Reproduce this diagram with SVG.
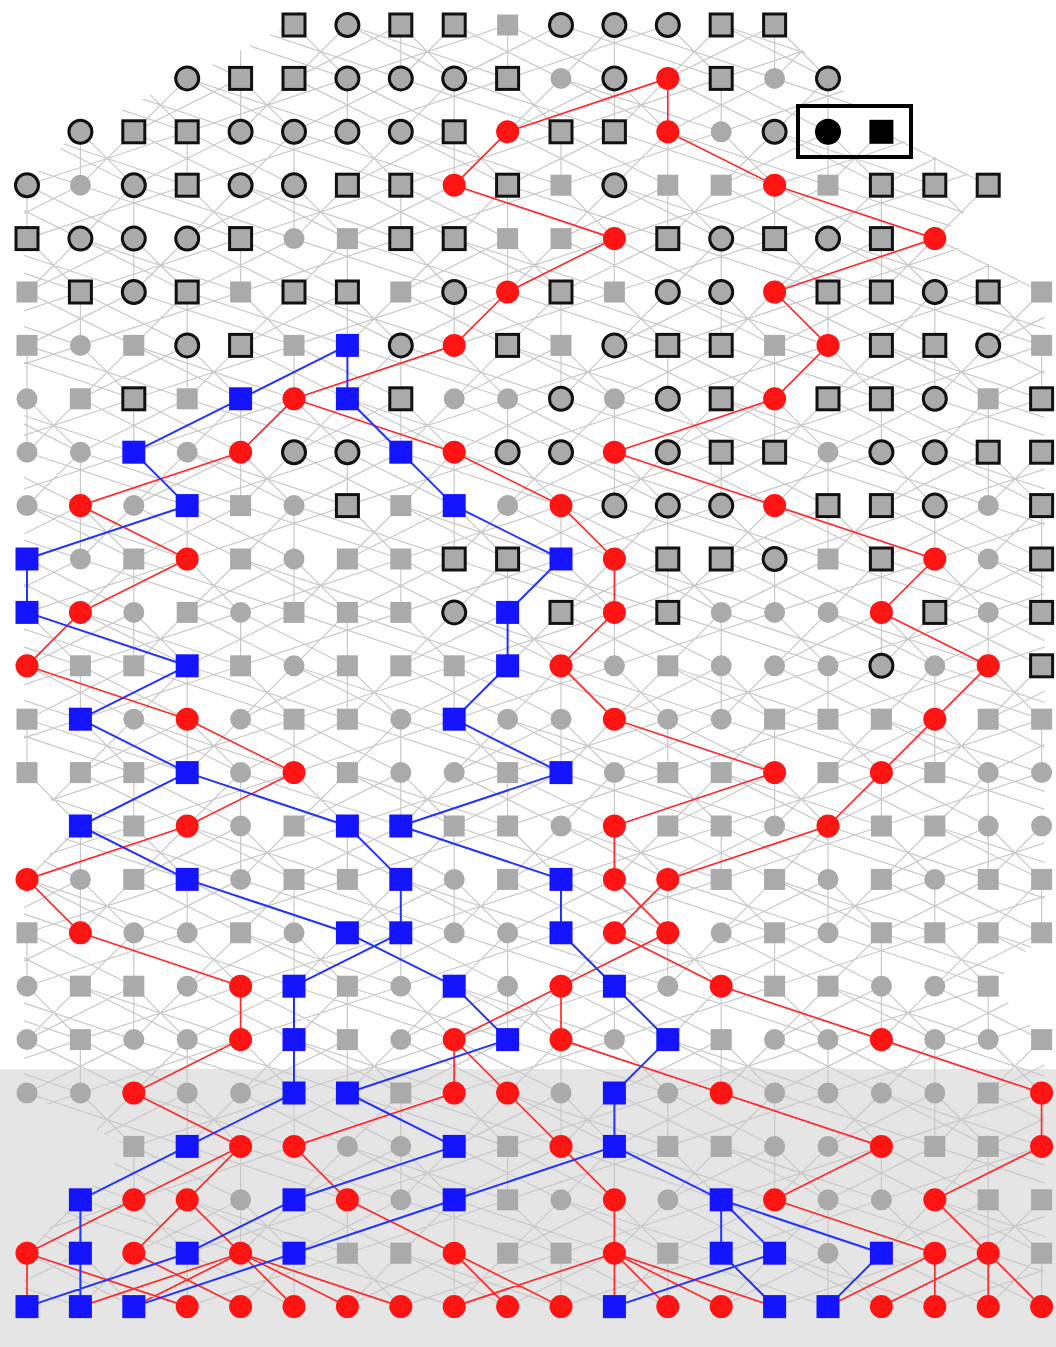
<svg xmlns="http://www.w3.org/2000/svg" width="1056" height="1347" viewBox="0 0 1056 1347">
<style>
.ge{fill:none;stroke:#c8c8c8;stroke-width:1.2}
.re{fill:none;stroke:#ff2a2a;stroke-width:1.7}
.be{fill:none;stroke:#2233ff;stroke-width:2}
</style>
<defs>
<circle id="gc" r="10.5" fill="#aaaaaa"/>
<rect id="gs" x="-10.5" y="-10.5" width="21" height="21" fill="#aaaaaa"/>
<circle id="oc" r="11.5" fill="#aaaaaa" stroke="#111" stroke-width="3"/>
<rect id="os" x="-11" y="-11" width="22" height="22" fill="#aaaaaa" stroke="#111" stroke-width="3"/>
<circle id="rc" r="11.5" fill="#ff1414"/>
<rect id="bs" x="-11.5" y="-11.5" width="23" height="23" fill="#1414ff"/>
<circle id="kc" r="13" fill="#000"/>
<rect id="ks" x="-12" y="-12" width="24" height="24" fill="#000"/>
<path id="p7" d="M0 0V53.4M0 0L53.4 53.4M0 0L-106.8 53.4M53.4 0L160.2 53.4M53.4 0L0 53.4M106.8 0V53.4M106.8 0L-53.4 53.4M106.8 0L213.6 53.4M160.2 0L320.4 53.4M160.2 0L53.4 53.4M213.6 0V53.4M213.6 0L160.2 53.4M213.6 0L373.8 53.4M267 0L320.4 53.4M267 0L106.8 53.4M320.4 0L267 53.4M320.4 0L427.2 53.4M320.4 0L480.6 53.4"/>
<g id="band">
<use href="#p7" x="-747.6"/><use href="#p7" x="-373.8"/><use href="#p7" x="0"/><use href="#p7" x="373.8"/><use href="#p7" x="747.6"/><use href="#p7" x="1121.4"/><use href="#p7" x="1495.2"/>
</g>
<clipPath id="k0"><polygon points="291,24 777.6,24 831,79.4 184.2,79.4"/></clipPath>
<clipPath id="k1"><polygon points="184.2,77.4 831,77.4 884.4,132.8 77.4,132.8"/></clipPath>
<clipPath id="k2"><polygon points="77.4,130.8 884.4,130.8 991.2,186.2 24,186.2"/></clipPath>
<clipPath id="k3"><polygon points="24,184.2 991.2,184.2 937.8,239.6 24,239.6"/></clipPath>
<clipPath id="k4"><polygon points="24,237.6 937.8,237.6 1044.6,293 24,293"/></clipPath>
<clipPath id="kf"><rect x="24" y="0" width="1020.6" height="1347"/></clipPath>
<clipPath id="k14"><polygon points="24,771.6 1044.6,771.6 1044.6,827 77.4,827"/></clipPath>
<clipPath id="k15"><polygon points="77.4,825 1044.6,825 1044.6,880.4 24,880.4"/></clipPath>
<clipPath id="k17"><polygon points="24,931.8 1044.6,931.8 991.2,987.2 24,987.2"/></clipPath>
<clipPath id="k18"><polygon points="24,985.2 991.2,985.2 1044.6,1040.6 24,1040.6"/></clipPath>
<clipPath id="k20"><polygon points="24,1092 1044.6,1092 1044.6,1147.4 130.8,1147.4"/></clipPath>
<clipPath id="k21"><polygon points="130.8,1145.4 1044.6,1145.4 1044.6,1200.8 77.4,1200.8"/></clipPath>
<clipPath id="k22"><polygon points="77.4,1198.8 1044.6,1198.8 1044.6,1254.2 24,1254.2"/></clipPath>
</defs>
<rect x="0" y="0" width="1056" height="1347" fill="#ffffff"/>
<rect id="lower-band" x="0" y="1069" width="1056" height="278" fill="#e5e5e5"/>
<g id="connectors">
<g id="gray-edges" class="ge">
<g clip-path="url(#k0)"><use href="#band" transform="translate(27,25)"/></g>
<g clip-path="url(#k1)"><use href="#band" transform="translate(-133.2,78.4)"/></g>
<g clip-path="url(#k2)"><use href="#band" transform="translate(-293.4,131.8)"/></g>
<g clip-path="url(#k3)"><use href="#band" transform="translate(-79.8,185.2)"/></g>
<g clip-path="url(#k4)"><use href="#band" transform="translate(-240,238.6)"/></g>
<g clip-path="url(#kf)">
<use href="#band" transform="translate(-26.4,292)"/>
<use href="#band" transform="translate(-186.6,345.4)"/>
<use href="#band" transform="translate(27,398.8)"/>
<use href="#band" transform="translate(-133.2,452.2)"/>
<use href="#band" transform="translate(-293.4,505.6)"/>
<use href="#band" transform="translate(-79.8,559)"/>
<use href="#band" transform="translate(-240,612.4)"/>
<use href="#band" transform="translate(-26.4,665.8)"/>
<use href="#band" transform="translate(-186.6,719.2)"/>
<use href="#band" transform="translate(-293.4,879.4)"/>
<use href="#band" transform="translate(-26.4,1039.6)"/>
<use href="#band" transform="translate(-293.4,1253.2)"/>
</g>
<g clip-path="url(#k14)"><use href="#band" transform="translate(27,772.6)"/></g>
<g clip-path="url(#k15)"><use href="#band" transform="translate(-133.2,826)"/></g>
<g clip-path="url(#k17)"><use href="#band" transform="translate(-79.8,932.8)"/></g>
<g clip-path="url(#k18)"><use href="#band" transform="translate(-240,986.2)"/></g>
<g clip-path="url(#k20)"><use href="#band" transform="translate(-186.6,1093)"/></g>
<g clip-path="url(#k21)"><use href="#band" transform="translate(27,1146.4)"/></g>
<g clip-path="url(#k22)"><use href="#band" transform="translate(-133.2,1199.8)"/></g>
</g>
<path id="red-edges" class="re" d="M667.8 78.4L507.6 131.8M667.8 78.4L667.8 131.8M507.6 131.8L454.2 185.2M667.8 131.8L774.6 185.2M454.2 185.2L614.4 238.6M774.6 185.2L934.8 238.6M614.4 238.6L507.6 292M934.8 238.6L774.6 292M507.6 292L454.2 345.4M774.6 292L828 345.4M454.2 345.4L294 398.8M828 345.4L774.6 398.8M294 398.8L240.6 452.2M294 398.8L454.2 452.2M774.6 398.8L614.4 452.2M240.6 452.2L80.4 505.6M454.2 452.2L561 505.6M614.4 452.2L774.6 505.6M80.4 505.6L187.2 559M561 505.6L614.4 559M774.6 505.6L934.8 559M187.2 559L80.4 612.4M614.4 559L614.4 612.4M934.8 559L881.4 612.4M80.4 612.4L27 665.8M614.4 612.4L561 665.8M881.4 612.4L988.2 665.8M27 665.8L187.2 719.2M561 665.8L614.4 719.2M988.2 665.8L934.8 719.2M187.2 719.2L294 772.6M614.4 719.2L774.6 772.6M934.8 719.2L881.4 772.6M294 772.6L187.2 826M774.6 772.6L614.4 826M881.4 772.6L828 826M187.2 826L27 879.4M614.4 826L614.4 879.4M828 826L667.8 879.4M27 879.4L80.4 932.8M614.4 879.4L667.8 932.8M667.8 879.4L614.4 932.8M80.4 932.8L240.6 986.2M614.4 932.8L721.2 986.2M667.8 932.8L561 986.2M240.6 986.2L240.6 1039.6M561 986.2L454.2 1039.6M561 986.2L561 1039.6M721.2 986.2L881.4 1039.6M240.6 1039.6L133.8 1093M454.2 1039.6L454.2 1093M454.2 1039.6L507.6 1093M561 1039.6L721.2 1093M881.4 1039.6L1041.6 1093M133.8 1093L240.6 1146.4M454.2 1093L294 1146.4M507.6 1093L561 1146.4M721.2 1093L881.4 1146.4M1041.6 1093L1041.6 1146.4M240.6 1146.4L133.8 1199.8M240.6 1146.4L187.2 1199.8M294 1146.4L347.4 1199.8M561 1146.4L614.4 1199.8M881.4 1146.4L774.6 1199.8M1041.6 1146.4L934.8 1199.8M133.8 1199.8L27 1253.2M187.2 1199.8L133.8 1253.2M187.2 1199.8L240.6 1253.2M347.4 1199.8L454.2 1253.2M614.4 1199.8L614.4 1253.2M774.6 1199.8L934.8 1253.2M934.8 1199.8L988.2 1253.2M27 1253.2L27 1306.6M27 1253.2L187.2 1306.6M133.8 1253.2L240.6 1306.6M240.6 1253.2L80.4 1306.6M240.6 1253.2L133.8 1306.6M240.6 1253.2L294 1306.6M240.6 1253.2L347.4 1306.6M240.6 1253.2L400.8 1306.6M454.2 1253.2L507.6 1306.6M454.2 1253.2L561 1306.6M614.4 1253.2L454.2 1306.6M614.4 1253.2L614.4 1306.6M614.4 1253.2L667.8 1306.6M614.4 1253.2L721.2 1306.6M614.4 1253.2L774.6 1306.6M934.8 1253.2L828 1306.6M934.8 1253.2L934.8 1306.6M988.2 1253.2L881.4 1306.6M988.2 1253.2L988.2 1306.6M988.2 1253.2L1041.6 1306.6"/>
<path id="blue-edges" class="be" d="M347.4 345.4L240.6 398.8M347.4 345.4L347.4 398.8M240.6 398.8L133.8 452.2M347.4 398.8L400.8 452.2M133.8 452.2L187.2 505.6M400.8 452.2L454.2 505.6M187.2 505.6L27 559M454.2 505.6L561 559M27 559L27 612.4M561 559L507.6 612.4M27 612.4L187.2 665.8M507.6 612.4L507.6 665.8M187.2 665.8L80.4 719.2M507.6 665.8L454.2 719.2M80.4 719.2L187.2 772.6M454.2 719.2L561 772.6M187.2 772.6L80.4 826M187.2 772.6L347.4 826M561 772.6L400.8 826M80.4 826L187.2 879.4M347.4 826L400.8 879.4M400.8 826L561 879.4M187.2 879.4L347.4 932.8M400.8 879.4L400.8 932.8M561 879.4L561 932.8M347.4 932.8L454.2 986.2M400.8 932.8L294 986.2M561 932.8L614.4 986.2M294 986.2L294 1039.6M454.2 986.2L507.6 1039.6M614.4 986.2L667.8 1039.6M294 1039.6L294 1093M507.6 1039.6L347.4 1093M667.8 1039.6L614.4 1093M294 1093L187.2 1146.4M347.4 1093L454.2 1146.4M614.4 1093L614.4 1146.4M187.2 1146.4L80.4 1199.8M454.2 1146.4L294 1199.8M614.4 1146.4L454.2 1199.8M614.4 1146.4L721.2 1199.8M80.4 1199.8L80.4 1253.2M294 1199.8L187.2 1253.2M454.2 1199.8L294 1253.2M721.2 1199.8L721.2 1253.2M721.2 1199.8L774.6 1253.2M721.2 1199.8L881.4 1253.2M80.4 1253.2L80.4 1306.6M187.2 1253.2L27 1306.6M294 1253.2L133.8 1306.6M721.2 1253.2L774.6 1306.6M774.6 1253.2L614.4 1306.6M881.4 1253.2L828 1306.6"/>
</g>
<g id="nodes">
<g id="row0" transform="translate(0,25)">
<g id="n0-5"><use href="#os" x="294"/></g><g id="n0-6"><use href="#oc" x="347.4"/></g><g id="n0-7"><use href="#os" x="400.8"/></g><g id="n0-8"><use href="#os" x="454.2"/></g><g id="n0-9"><use href="#gs" x="507.6"/></g><g id="n0-10"><use href="#oc" x="561"/></g><g id="n0-11"><use href="#oc" x="614.4"/></g><g id="n0-12"><use href="#oc" x="667.8"/></g><g id="n0-13"><use href="#os" x="721.2"/></g><g id="n0-14"><use href="#os" x="774.6"/></g>
</g>
<g id="row1" transform="translate(0,78.4)">
<g id="n1-3"><use href="#oc" x="187.2"/></g><g id="n1-4"><use href="#os" x="240.6"/></g><g id="n1-5"><use href="#os" x="294"/></g><g id="n1-6"><use href="#oc" x="347.4"/></g><g id="n1-7"><use href="#oc" x="400.8"/></g><g id="n1-8"><use href="#oc" x="454.2"/></g><g id="n1-9"><use href="#os" x="507.6"/></g><g id="n1-10"><use href="#gc" x="561"/></g><g id="n1-11"><use href="#oc" x="614.4"/></g><g id="n1-12"><use href="#rc" x="667.8"/></g><g id="n1-13"><use href="#os" x="721.2"/></g><g id="n1-14"><use href="#gc" x="774.6"/></g><g id="n1-15"><use href="#oc" x="828"/></g>
</g>
<g id="row2" transform="translate(0,131.8)">
<g id="n2-1"><use href="#oc" x="80.4"/></g><g id="n2-2"><use href="#os" x="133.8"/></g><g id="n2-3"><use href="#os" x="187.2"/></g><g id="n2-4"><use href="#oc" x="240.6"/></g><g id="n2-5"><use href="#oc" x="294"/></g><g id="n2-6"><use href="#oc" x="347.4"/></g><g id="n2-7"><use href="#oc" x="400.8"/></g><g id="n2-8"><use href="#os" x="454.2"/></g><g id="n2-9"><use href="#rc" x="507.6"/></g><g id="n2-10"><use href="#os" x="561"/></g><g id="n2-11"><use href="#os" x="614.4"/></g><g id="n2-12"><use href="#rc" x="667.8"/></g><g id="n2-13"><use href="#gc" x="721.2"/></g><g id="n2-14"><use href="#oc" x="774.6"/></g><g id="n2-15"><use href="#kc" x="828"/></g><g id="n2-16"><use href="#ks" x="881.4"/></g>
</g>
<g id="row3" transform="translate(0,185.2)">
<g id="n3-0"><use href="#oc" x="27"/></g><g id="n3-1"><use href="#gc" x="80.4"/></g><g id="n3-2"><use href="#oc" x="133.8"/></g><g id="n3-3"><use href="#os" x="187.2"/></g><g id="n3-4"><use href="#oc" x="240.6"/></g><g id="n3-5"><use href="#oc" x="294"/></g><g id="n3-6"><use href="#os" x="347.4"/></g><g id="n3-7"><use href="#os" x="400.8"/></g><g id="n3-8"><use href="#rc" x="454.2"/></g><g id="n3-9"><use href="#os" x="507.6"/></g><g id="n3-10"><use href="#gs" x="561"/></g><g id="n3-11"><use href="#oc" x="614.4"/></g><g id="n3-12"><use href="#gs" x="667.8"/></g><g id="n3-13"><use href="#gs" x="721.2"/></g><g id="n3-14"><use href="#rc" x="774.6"/></g><g id="n3-15"><use href="#gs" x="828"/></g><g id="n3-16"><use href="#os" x="881.4"/></g><g id="n3-17"><use href="#os" x="934.8"/></g><g id="n3-18"><use href="#os" x="988.2"/></g>
</g>
<g id="row4" transform="translate(0,238.6)">
<g id="n4-0"><use href="#os" x="27"/></g><g id="n4-1"><use href="#oc" x="80.4"/></g><g id="n4-2"><use href="#oc" x="133.8"/></g><g id="n4-3"><use href="#oc" x="187.2"/></g><g id="n4-4"><use href="#os" x="240.6"/></g><g id="n4-5"><use href="#gc" x="294"/></g><g id="n4-6"><use href="#gs" x="347.4"/></g><g id="n4-7"><use href="#os" x="400.8"/></g><g id="n4-8"><use href="#os" x="454.2"/></g><g id="n4-9"><use href="#gs" x="507.6"/></g><g id="n4-10"><use href="#gs" x="561"/></g><g id="n4-11"><use href="#rc" x="614.4"/></g><g id="n4-12"><use href="#os" x="667.8"/></g><g id="n4-13"><use href="#oc" x="721.2"/></g><g id="n4-14"><use href="#os" x="774.6"/></g><g id="n4-15"><use href="#oc" x="828"/></g><g id="n4-16"><use href="#os" x="881.4"/></g><g id="n4-17"><use href="#rc" x="934.8"/></g>
</g>
<g id="row5" transform="translate(0,292)">
<g id="n5-0"><use href="#gs" x="27"/></g><g id="n5-1"><use href="#os" x="80.4"/></g><g id="n5-2"><use href="#oc" x="133.8"/></g><g id="n5-3"><use href="#os" x="187.2"/></g><g id="n5-4"><use href="#gs" x="240.6"/></g><g id="n5-5"><use href="#os" x="294"/></g><g id="n5-6"><use href="#os" x="347.4"/></g><g id="n5-7"><use href="#gs" x="400.8"/></g><g id="n5-8"><use href="#oc" x="454.2"/></g><g id="n5-9"><use href="#rc" x="507.6"/></g><g id="n5-10"><use href="#os" x="561"/></g><g id="n5-11"><use href="#gs" x="614.4"/></g><g id="n5-12"><use href="#oc" x="667.8"/></g><g id="n5-13"><use href="#oc" x="721.2"/></g><g id="n5-14"><use href="#rc" x="774.6"/></g><g id="n5-15"><use href="#os" x="828"/></g><g id="n5-16"><use href="#os" x="881.4"/></g><g id="n5-17"><use href="#oc" x="934.8"/></g><g id="n5-18"><use href="#os" x="988.2"/></g><g id="n5-19"><use href="#gs" x="1041.6"/></g>
</g>
<g id="row6" transform="translate(0,345.4)">
<g id="n6-0"><use href="#gs" x="27"/></g><g id="n6-1"><use href="#gc" x="80.4"/></g><g id="n6-2"><use href="#gs" x="133.8"/></g><g id="n6-3"><use href="#oc" x="187.2"/></g><g id="n6-4"><use href="#os" x="240.6"/></g><g id="n6-5"><use href="#gs" x="294"/></g><g id="n6-6"><use href="#bs" x="347.4"/></g><g id="n6-7"><use href="#oc" x="400.8"/></g><g id="n6-8"><use href="#rc" x="454.2"/></g><g id="n6-9"><use href="#os" x="507.6"/></g><g id="n6-10"><use href="#gs" x="561"/></g><g id="n6-11"><use href="#oc" x="614.4"/></g><g id="n6-12"><use href="#os" x="667.8"/></g><g id="n6-13"><use href="#os" x="721.2"/></g><g id="n6-14"><use href="#gs" x="774.6"/></g><g id="n6-15"><use href="#rc" x="828"/></g><g id="n6-16"><use href="#os" x="881.4"/></g><g id="n6-17"><use href="#os" x="934.8"/></g><g id="n6-18"><use href="#oc" x="988.2"/></g><g id="n6-19"><use href="#gs" x="1041.6"/></g>
</g>
<g id="row7" transform="translate(0,398.8)">
<g id="n7-0"><use href="#gc" x="27"/></g><g id="n7-1"><use href="#gs" x="80.4"/></g><g id="n7-2"><use href="#os" x="133.8"/></g><g id="n7-3"><use href="#gs" x="187.2"/></g><g id="n7-4"><use href="#bs" x="240.6"/></g><g id="n7-5"><use href="#rc" x="294"/></g><g id="n7-6"><use href="#bs" x="347.4"/></g><g id="n7-7"><use href="#os" x="400.8"/></g><g id="n7-8"><use href="#gc" x="454.2"/></g><g id="n7-9"><use href="#gc" x="507.6"/></g><g id="n7-10"><use href="#oc" x="561"/></g><g id="n7-11"><use href="#gc" x="614.4"/></g><g id="n7-12"><use href="#oc" x="667.8"/></g><g id="n7-13"><use href="#os" x="721.2"/></g><g id="n7-14"><use href="#rc" x="774.6"/></g><g id="n7-15"><use href="#os" x="828"/></g><g id="n7-16"><use href="#os" x="881.4"/></g><g id="n7-17"><use href="#oc" x="934.8"/></g><g id="n7-18"><use href="#gs" x="988.2"/></g><g id="n7-19"><use href="#os" x="1041.6"/></g>
</g>
<g id="row8" transform="translate(0,452.2)">
<g id="n8-0"><use href="#gc" x="27"/></g><g id="n8-1"><use href="#gc" x="80.4"/></g><g id="n8-2"><use href="#bs" x="133.8"/></g><g id="n8-3"><use href="#gc" x="187.2"/></g><g id="n8-4"><use href="#rc" x="240.6"/></g><g id="n8-5"><use href="#oc" x="294"/></g><g id="n8-6"><use href="#oc" x="347.4"/></g><g id="n8-7"><use href="#bs" x="400.8"/></g><g id="n8-8"><use href="#rc" x="454.2"/></g><g id="n8-9"><use href="#oc" x="507.6"/></g><g id="n8-10"><use href="#oc" x="561"/></g><g id="n8-11"><use href="#rc" x="614.4"/></g><g id="n8-12"><use href="#oc" x="667.8"/></g><g id="n8-13"><use href="#os" x="721.2"/></g><g id="n8-14"><use href="#os" x="774.6"/></g><g id="n8-15"><use href="#gc" x="828"/></g><g id="n8-16"><use href="#oc" x="881.4"/></g><g id="n8-17"><use href="#oc" x="934.8"/></g><g id="n8-18"><use href="#os" x="988.2"/></g><g id="n8-19"><use href="#os" x="1041.6"/></g>
</g>
<g id="row9" transform="translate(0,505.6)">
<g id="n9-0"><use href="#gc" x="27"/></g><g id="n9-1"><use href="#rc" x="80.4"/></g><g id="n9-2"><use href="#gc" x="133.8"/></g><g id="n9-3"><use href="#bs" x="187.2"/></g><g id="n9-4"><use href="#gs" x="240.6"/></g><g id="n9-5"><use href="#gc" x="294"/></g><g id="n9-6"><use href="#os" x="347.4"/></g><g id="n9-7"><use href="#gs" x="400.8"/></g><g id="n9-8"><use href="#bs" x="454.2"/></g><g id="n9-9"><use href="#gc" x="507.6"/></g><g id="n9-10"><use href="#rc" x="561"/></g><g id="n9-11"><use href="#oc" x="614.4"/></g><g id="n9-12"><use href="#oc" x="667.8"/></g><g id="n9-13"><use href="#oc" x="721.2"/></g><g id="n9-14"><use href="#rc" x="774.6"/></g><g id="n9-15"><use href="#os" x="828"/></g><g id="n9-16"><use href="#os" x="881.4"/></g><g id="n9-17"><use href="#oc" x="934.8"/></g><g id="n9-18"><use href="#gc" x="988.2"/></g><g id="n9-19"><use href="#os" x="1041.6"/></g>
</g>
<g id="row10" transform="translate(0,559)">
<g id="n10-0"><use href="#bs" x="27"/></g><g id="n10-1"><use href="#gc" x="80.4"/></g><g id="n10-2"><use href="#gs" x="133.8"/></g><g id="n10-3"><use href="#rc" x="187.2"/></g><g id="n10-4"><use href="#gs" x="240.6"/></g><g id="n10-5"><use href="#gc" x="294"/></g><g id="n10-6"><use href="#gs" x="347.4"/></g><g id="n10-7"><use href="#gs" x="400.8"/></g><g id="n10-8"><use href="#os" x="454.2"/></g><g id="n10-9"><use href="#os" x="507.6"/></g><g id="n10-10"><use href="#bs" x="561"/></g><g id="n10-11"><use href="#rc" x="614.4"/></g><g id="n10-12"><use href="#os" x="667.8"/></g><g id="n10-13"><use href="#os" x="721.2"/></g><g id="n10-14"><use href="#oc" x="774.6"/></g><g id="n10-15"><use href="#gs" x="828"/></g><g id="n10-16"><use href="#os" x="881.4"/></g><g id="n10-17"><use href="#rc" x="934.8"/></g><g id="n10-18"><use href="#gc" x="988.2"/></g><g id="n10-19"><use href="#os" x="1041.6"/></g>
</g>
<g id="row11" transform="translate(0,612.4)">
<g id="n11-0"><use href="#bs" x="27"/></g><g id="n11-1"><use href="#rc" x="80.4"/></g><g id="n11-2"><use href="#gc" x="133.8"/></g><g id="n11-3"><use href="#gs" x="187.2"/></g><g id="n11-4"><use href="#gc" x="240.6"/></g><g id="n11-5"><use href="#gs" x="294"/></g><g id="n11-6"><use href="#gs" x="347.4"/></g><g id="n11-7"><use href="#gs" x="400.8"/></g><g id="n11-8"><use href="#oc" x="454.2"/></g><g id="n11-9"><use href="#bs" x="507.6"/></g><g id="n11-10"><use href="#os" x="561"/></g><g id="n11-11"><use href="#rc" x="614.4"/></g><g id="n11-12"><use href="#os" x="667.8"/></g><g id="n11-13"><use href="#gc" x="721.2"/></g><g id="n11-14"><use href="#gc" x="774.6"/></g><g id="n11-15"><use href="#gc" x="828"/></g><g id="n11-16"><use href="#rc" x="881.4"/></g><g id="n11-17"><use href="#os" x="934.8"/></g><g id="n11-18"><use href="#gc" x="988.2"/></g><g id="n11-19"><use href="#os" x="1041.6"/></g>
</g>
<g id="row12" transform="translate(0,665.8)">
<g id="n12-0"><use href="#rc" x="27"/></g><g id="n12-1"><use href="#gs" x="80.4"/></g><g id="n12-2"><use href="#gs" x="133.8"/></g><g id="n12-3"><use href="#bs" x="187.2"/></g><g id="n12-4"><use href="#gs" x="240.6"/></g><g id="n12-5"><use href="#gc" x="294"/></g><g id="n12-6"><use href="#gs" x="347.4"/></g><g id="n12-7"><use href="#gs" x="400.8"/></g><g id="n12-8"><use href="#gs" x="454.2"/></g><g id="n12-9"><use href="#bs" x="507.6"/></g><g id="n12-10"><use href="#rc" x="561"/></g><g id="n12-11"><use href="#gc" x="614.4"/></g><g id="n12-12"><use href="#gs" x="667.8"/></g><g id="n12-13"><use href="#gc" x="721.2"/></g><g id="n12-14"><use href="#gc" x="774.6"/></g><g id="n12-15"><use href="#gc" x="828"/></g><g id="n12-16"><use href="#oc" x="881.4"/></g><g id="n12-17"><use href="#gc" x="934.8"/></g><g id="n12-18"><use href="#rc" x="988.2"/></g><g id="n12-19"><use href="#os" x="1041.6"/></g>
</g>
<g id="row13" transform="translate(0,719.2)">
<g id="n13-0"><use href="#gs" x="27"/></g><g id="n13-1"><use href="#bs" x="80.4"/></g><g id="n13-2"><use href="#gc" x="133.8"/></g><g id="n13-3"><use href="#rc" x="187.2"/></g><g id="n13-4"><use href="#gc" x="240.6"/></g><g id="n13-5"><use href="#gs" x="294"/></g><g id="n13-6"><use href="#gs" x="347.4"/></g><g id="n13-7"><use href="#gc" x="400.8"/></g><g id="n13-8"><use href="#bs" x="454.2"/></g><g id="n13-9"><use href="#gc" x="507.6"/></g><g id="n13-10"><use href="#gc" x="561"/></g><g id="n13-11"><use href="#rc" x="614.4"/></g><g id="n13-12"><use href="#gc" x="667.8"/></g><g id="n13-13"><use href="#gc" x="721.2"/></g><g id="n13-14"><use href="#gs" x="774.6"/></g><g id="n13-15"><use href="#gs" x="828"/></g><g id="n13-16"><use href="#gs" x="881.4"/></g><g id="n13-17"><use href="#rc" x="934.8"/></g><g id="n13-18"><use href="#gs" x="988.2"/></g><g id="n13-19"><use href="#gs" x="1041.6"/></g>
</g>
<g id="row14" transform="translate(0,772.6)">
<g id="n14-0"><use href="#gs" x="27"/></g><g id="n14-1"><use href="#gs" x="80.4"/></g><g id="n14-2"><use href="#gs" x="133.8"/></g><g id="n14-3"><use href="#bs" x="187.2"/></g><g id="n14-4"><use href="#gc" x="240.6"/></g><g id="n14-5"><use href="#rc" x="294"/></g><g id="n14-6"><use href="#gs" x="347.4"/></g><g id="n14-7"><use href="#gc" x="400.8"/></g><g id="n14-8"><use href="#gc" x="454.2"/></g><g id="n14-9"><use href="#gs" x="507.6"/></g><g id="n14-10"><use href="#bs" x="561"/></g><g id="n14-11"><use href="#gc" x="614.4"/></g><g id="n14-12"><use href="#gs" x="667.8"/></g><g id="n14-13"><use href="#gs" x="721.2"/></g><g id="n14-14"><use href="#rc" x="774.6"/></g><g id="n14-15"><use href="#gs" x="828"/></g><g id="n14-16"><use href="#rc" x="881.4"/></g><g id="n14-17"><use href="#gs" x="934.8"/></g><g id="n14-18"><use href="#gc" x="988.2"/></g><g id="n14-19"><use href="#gc" x="1041.6"/></g>
</g>
<g id="row15" transform="translate(0,826)">
<g id="n15-1"><use href="#bs" x="80.4"/></g><g id="n15-2"><use href="#gs" x="133.8"/></g><g id="n15-3"><use href="#rc" x="187.2"/></g><g id="n15-4"><use href="#gc" x="240.6"/></g><g id="n15-5"><use href="#gs" x="294"/></g><g id="n15-6"><use href="#bs" x="347.4"/></g><g id="n15-7"><use href="#bs" x="400.8"/></g><g id="n15-8"><use href="#gs" x="454.2"/></g><g id="n15-9"><use href="#gs" x="507.6"/></g><g id="n15-10"><use href="#gc" x="561"/></g><g id="n15-11"><use href="#rc" x="614.4"/></g><g id="n15-12"><use href="#gs" x="667.8"/></g><g id="n15-13"><use href="#gs" x="721.2"/></g><g id="n15-14"><use href="#gc" x="774.6"/></g><g id="n15-15"><use href="#rc" x="828"/></g><g id="n15-16"><use href="#gs" x="881.4"/></g><g id="n15-17"><use href="#gs" x="934.8"/></g><g id="n15-18"><use href="#gc" x="988.2"/></g><g id="n15-19"><use href="#gc" x="1041.6"/></g>
</g>
<g id="row16" transform="translate(0,879.4)">
<g id="n16-0"><use href="#rc" x="27"/></g><g id="n16-1"><use href="#gc" x="80.4"/></g><g id="n16-2"><use href="#gs" x="133.8"/></g><g id="n16-3"><use href="#bs" x="187.2"/></g><g id="n16-4"><use href="#gc" x="240.6"/></g><g id="n16-5"><use href="#gs" x="294"/></g><g id="n16-6"><use href="#gs" x="347.4"/></g><g id="n16-7"><use href="#bs" x="400.8"/></g><g id="n16-8"><use href="#gc" x="454.2"/></g><g id="n16-9"><use href="#gs" x="507.6"/></g><g id="n16-10"><use href="#bs" x="561"/></g><g id="n16-11"><use href="#rc" x="614.4"/></g><g id="n16-12"><use href="#rc" x="667.8"/></g><g id="n16-13"><use href="#gs" x="721.2"/></g><g id="n16-14"><use href="#gs" x="774.6"/></g><g id="n16-15"><use href="#gc" x="828"/></g><g id="n16-16"><use href="#gs" x="881.4"/></g><g id="n16-17"><use href="#gc" x="934.8"/></g><g id="n16-18"><use href="#gs" x="988.2"/></g><g id="n16-19"><use href="#gs" x="1041.6"/></g>
</g>
<g id="row17" transform="translate(0,932.8)">
<g id="n17-0"><use href="#gs" x="27"/></g><g id="n17-1"><use href="#rc" x="80.4"/></g><g id="n17-2"><use href="#gc" x="133.8"/></g><g id="n17-3"><use href="#gc" x="187.2"/></g><g id="n17-4"><use href="#gs" x="240.6"/></g><g id="n17-5"><use href="#gc" x="294"/></g><g id="n17-6"><use href="#bs" x="347.4"/></g><g id="n17-7"><use href="#bs" x="400.8"/></g><g id="n17-8"><use href="#gc" x="454.2"/></g><g id="n17-9"><use href="#gc" x="507.6"/></g><g id="n17-10"><use href="#bs" x="561"/></g><g id="n17-11"><use href="#rc" x="614.4"/></g><g id="n17-12"><use href="#rc" x="667.8"/></g><g id="n17-13"><use href="#gc" x="721.2"/></g><g id="n17-14"><use href="#gs" x="774.6"/></g><g id="n17-15"><use href="#gc" x="828"/></g><g id="n17-16"><use href="#gs" x="881.4"/></g><g id="n17-17"><use href="#gs" x="934.8"/></g><g id="n17-18"><use href="#gs" x="988.2"/></g><g id="n17-19"><use href="#gs" x="1041.6"/></g>
</g>
<g id="row18" transform="translate(0,986.2)">
<g id="n18-0"><use href="#gc" x="27"/></g><g id="n18-1"><use href="#gs" x="80.4"/></g><g id="n18-2"><use href="#gs" x="133.8"/></g><g id="n18-3"><use href="#gc" x="187.2"/></g><g id="n18-4"><use href="#rc" x="240.6"/></g><g id="n18-5"><use href="#bs" x="294"/></g><g id="n18-6"><use href="#gs" x="347.4"/></g><g id="n18-7"><use href="#gc" x="400.8"/></g><g id="n18-8"><use href="#bs" x="454.2"/></g><g id="n18-9"><use href="#gc" x="507.6"/></g><g id="n18-10"><use href="#rc" x="561"/></g><g id="n18-11"><use href="#bs" x="614.4"/></g><g id="n18-12"><use href="#gc" x="667.8"/></g><g id="n18-13"><use href="#rc" x="721.2"/></g><g id="n18-14"><use href="#gs" x="774.6"/></g><g id="n18-15"><use href="#gs" x="828"/></g><g id="n18-16"><use href="#gc" x="881.4"/></g><g id="n18-17"><use href="#gc" x="934.8"/></g><g id="n18-18"><use href="#gs" x="988.2"/></g>
</g>
<g id="row19" transform="translate(0,1039.6)">
<g id="n19-0"><use href="#gc" x="27"/></g><g id="n19-1"><use href="#gs" x="80.4"/></g><g id="n19-2"><use href="#gc" x="133.8"/></g><g id="n19-3"><use href="#gc" x="187.2"/></g><g id="n19-4"><use href="#rc" x="240.6"/></g><g id="n19-5"><use href="#bs" x="294"/></g><g id="n19-6"><use href="#gs" x="347.4"/></g><g id="n19-7"><use href="#gc" x="400.8"/></g><g id="n19-8"><use href="#rc" x="454.2"/></g><g id="n19-9"><use href="#bs" x="507.6"/></g><g id="n19-10"><use href="#rc" x="561"/></g><g id="n19-11"><use href="#gc" x="614.4"/></g><g id="n19-12"><use href="#bs" x="667.8"/></g><g id="n19-13"><use href="#gs" x="721.2"/></g><g id="n19-14"><use href="#gc" x="774.6"/></g><g id="n19-15"><use href="#gc" x="828"/></g><g id="n19-16"><use href="#rc" x="881.4"/></g><g id="n19-17"><use href="#gc" x="934.8"/></g><g id="n19-18"><use href="#gc" x="988.2"/></g><g id="n19-19"><use href="#gs" x="1041.6"/></g>
</g>
<g id="row20" transform="translate(0,1093)">
<g id="n20-0"><use href="#gc" x="27"/></g><g id="n20-1"><use href="#gc" x="80.4"/></g><g id="n20-2"><use href="#rc" x="133.8"/></g><g id="n20-3"><use href="#gc" x="187.2"/></g><g id="n20-4"><use href="#gc" x="240.6"/></g><g id="n20-5"><use href="#bs" x="294"/></g><g id="n20-6"><use href="#bs" x="347.4"/></g><g id="n20-7"><use href="#gs" x="400.8"/></g><g id="n20-8"><use href="#rc" x="454.2"/></g><g id="n20-9"><use href="#rc" x="507.6"/></g><g id="n20-10"><use href="#gc" x="561"/></g><g id="n20-11"><use href="#bs" x="614.4"/></g><g id="n20-12"><use href="#gc" x="667.8"/></g><g id="n20-13"><use href="#rc" x="721.2"/></g><g id="n20-14"><use href="#gc" x="774.6"/></g><g id="n20-15"><use href="#gc" x="828"/></g><g id="n20-16"><use href="#gc" x="881.4"/></g><g id="n20-17"><use href="#gc" x="934.8"/></g><g id="n20-18"><use href="#gs" x="988.2"/></g><g id="n20-19"><use href="#rc" x="1041.6"/></g>
</g>
<g id="row21" transform="translate(0,1146.4)">
<g id="n21-2"><use href="#gs" x="133.8"/></g><g id="n21-3"><use href="#bs" x="187.2"/></g><g id="n21-4"><use href="#rc" x="240.6"/></g><g id="n21-5"><use href="#rc" x="294"/></g><g id="n21-6"><use href="#gc" x="347.4"/></g><g id="n21-7"><use href="#gc" x="400.8"/></g><g id="n21-8"><use href="#bs" x="454.2"/></g><g id="n21-9"><use href="#gs" x="507.6"/></g><g id="n21-10"><use href="#rc" x="561"/></g><g id="n21-11"><use href="#bs" x="614.4"/></g><g id="n21-12"><use href="#gs" x="667.8"/></g><g id="n21-13"><use href="#gs" x="721.2"/></g><g id="n21-14"><use href="#gc" x="774.6"/></g><g id="n21-15"><use href="#gc" x="828"/></g><g id="n21-16"><use href="#rc" x="881.4"/></g><g id="n21-17"><use href="#gs" x="934.8"/></g><g id="n21-18"><use href="#gs" x="988.2"/></g><g id="n21-19"><use href="#rc" x="1041.6"/></g>
</g>
<g id="row22" transform="translate(0,1199.8)">
<g id="n22-1"><use href="#bs" x="80.4"/></g><g id="n22-2"><use href="#rc" x="133.8"/></g><g id="n22-3"><use href="#rc" x="187.2"/></g><g id="n22-4"><use href="#gc" x="240.6"/></g><g id="n22-5"><use href="#bs" x="294"/></g><g id="n22-6"><use href="#rc" x="347.4"/></g><g id="n22-7"><use href="#gc" x="400.8"/></g><g id="n22-8"><use href="#bs" x="454.2"/></g><g id="n22-9"><use href="#gs" x="507.6"/></g><g id="n22-10"><use href="#gc" x="561"/></g><g id="n22-11"><use href="#rc" x="614.4"/></g><g id="n22-12"><use href="#gc" x="667.8"/></g><g id="n22-13"><use href="#bs" x="721.2"/></g><g id="n22-14"><use href="#rc" x="774.6"/></g><g id="n22-15"><use href="#gc" x="828"/></g><g id="n22-16"><use href="#gc" x="881.4"/></g><g id="n22-17"><use href="#rc" x="934.8"/></g><g id="n22-18"><use href="#gs" x="988.2"/></g><g id="n22-19"><use href="#gs" x="1041.6"/></g>
</g>
<g id="row23" transform="translate(0,1253.2)">
<g id="n23-0"><use href="#rc" x="27"/></g><g id="n23-1"><use href="#bs" x="80.4"/></g><g id="n23-2"><use href="#rc" x="133.8"/></g><g id="n23-3"><use href="#bs" x="187.2"/></g><g id="n23-4"><use href="#rc" x="240.6"/></g><g id="n23-5"><use href="#bs" x="294"/></g><g id="n23-6"><use href="#gs" x="347.4"/></g><g id="n23-7"><use href="#gs" x="400.8"/></g><g id="n23-8"><use href="#rc" x="454.2"/></g><g id="n23-9"><use href="#gs" x="507.6"/></g><g id="n23-10"><use href="#gs" x="561"/></g><g id="n23-11"><use href="#rc" x="614.4"/></g><g id="n23-12"><use href="#gs" x="667.8"/></g><g id="n23-13"><use href="#bs" x="721.2"/></g><g id="n23-14"><use href="#bs" x="774.6"/></g><g id="n23-15"><use href="#gc" x="828"/></g><g id="n23-16"><use href="#bs" x="881.4"/></g><g id="n23-17"><use href="#rc" x="934.8"/></g><g id="n23-18"><use href="#rc" x="988.2"/></g><g id="n23-19"><use href="#gs" x="1041.6"/></g>
</g>
<g id="row24" transform="translate(0,1306.6)">
<g id="n24-0"><use href="#bs" x="27"/></g><g id="n24-1"><use href="#bs" x="80.4"/></g><g id="n24-2"><use href="#bs" x="133.8"/></g><g id="n24-3"><use href="#rc" x="187.2"/></g><g id="n24-4"><use href="#rc" x="240.6"/></g><g id="n24-5"><use href="#rc" x="294"/></g><g id="n24-6"><use href="#rc" x="347.4"/></g><g id="n24-7"><use href="#rc" x="400.8"/></g><g id="n24-8"><use href="#rc" x="454.2"/></g><g id="n24-9"><use href="#rc" x="507.6"/></g><g id="n24-10"><use href="#rc" x="561"/></g><g id="n24-11"><use href="#bs" x="614.4"/></g><g id="n24-12"><use href="#rc" x="667.8"/></g><g id="n24-13"><use href="#rc" x="721.2"/></g><g id="n24-14"><use href="#bs" x="774.6"/></g><g id="n24-15"><use href="#bs" x="828"/></g><g id="n24-16"><use href="#rc" x="881.4"/></g><g id="n24-17"><use href="#rc" x="934.8"/></g><g id="n24-18"><use href="#rc" x="988.2"/></g><g id="n24-19"><use href="#rc" x="1041.6"/></g>
</g>
</g>
<g id="highlight-box"><rect x="798" y="106" width="113" height="51" fill="none" stroke="#000" stroke-width="4"/></g>
</svg>
